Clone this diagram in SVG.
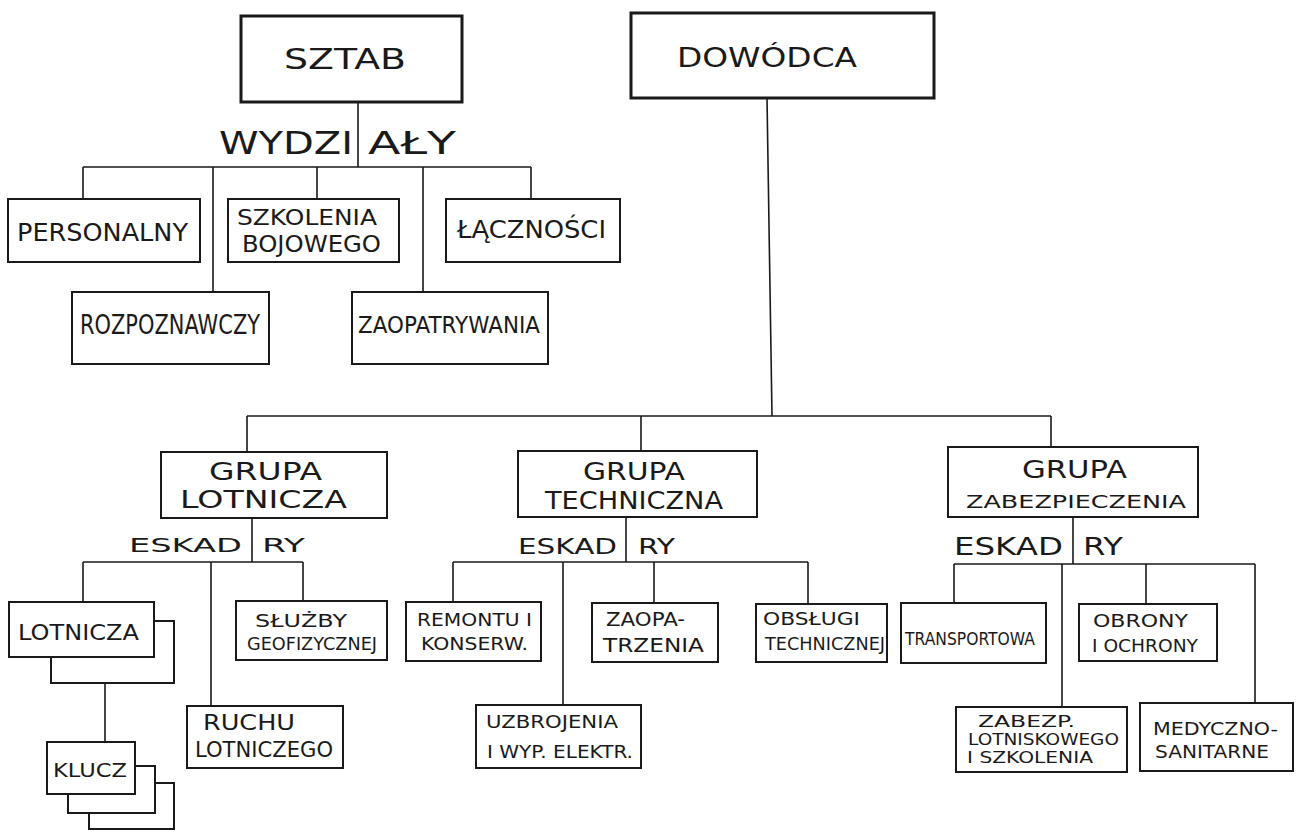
<svg xmlns="http://www.w3.org/2000/svg" width="1303" height="832" viewBox="0 0 1303 832">
<style>
.b{fill:#fff;stroke:#1a1a1a;stroke-width:2}
.bb{fill:#fff;stroke:#1a1a1a;stroke-width:3}
.s{fill:none;stroke:#1a1a1a;stroke-width:2}
.c{fill:none;stroke:#1a1a1a;stroke-width:1.6}
text{font-family:"DejaVu Sans","Liberation Sans",sans-serif;fill:#1a1a1a}
</style>
<rect x="0" y="0" width="1303" height="832" fill="#fff"/>
<g id="connectors" class="c">
<path d="M358,102 V167 M83,167 H531 M83,167 V199 M213,167 V292 M317,167 V199 M423,167 V292 M531,167 V199"/>
<path d="M767,98 L772,416 M247,416 H1051 M247,416 V452 M641,416 V451 M1051,416 V447"/>
<path d="M252,518 V562 M83,562 H303 M83,562 V602 M211,562 V706 M303,562 V601 M105,683 V742"/>
<path d="M626,517 V562 M453,562 H808 M453,562 V602 M563,562 V705 M654,562 V603 M808,562 V604"/>
<path d="M1073,517 V564 M954,564 H1255 M954,564 V603 M1062,564 V706 M1146,564 V604 M1255,564 V703"/>
</g>
<g id="sztab"><rect class="bb" x="241" y="16" width="221" height="86"/><text x="284" y="69" font-size="28" textLength="122" lengthAdjust="spacingAndGlyphs">SZTAB</text></g>
<g id="wydzialy-label"><text x="219" y="154" font-size="32" textLength="134" lengthAdjust="spacingAndGlyphs">WYDZI</text><text x="368" y="154" font-size="32" textLength="88" lengthAdjust="spacingAndGlyphs">AŁY</text></g>
<g id="dowodca"><rect class="bb" x="631" y="13" width="303" height="85"/><text x="677" y="67" font-size="26" textLength="180" lengthAdjust="spacingAndGlyphs">DOWÓDCA</text></g>
<g id="personalny"><rect class="b" x="8" y="199" width="192" height="63"/><text x="17" y="241" font-size="25" textLength="171" lengthAdjust="spacingAndGlyphs">PERSONALNY</text></g>
<g id="szkolenia"><rect class="b" x="228" y="199" width="171" height="63"/><text x="237" y="225" font-size="21" textLength="140" lengthAdjust="spacingAndGlyphs">SZKOLENIA</text><text x="242" y="252" font-size="23" textLength="139" lengthAdjust="spacingAndGlyphs">BOJOWEGO</text></g>
<g id="lacznosci"><rect class="b" x="446" y="199" width="174" height="63"/><text x="457" y="238" font-size="24" textLength="149" lengthAdjust="spacingAndGlyphs">ŁĄCZNOŚCI</text></g>
<g id="rozpoznawczy"><rect class="b" x="72" y="292" width="197" height="72"/><text x="80" y="334" font-size="26" textLength="180" lengthAdjust="spacingAndGlyphs">ROZPOZNAWCZY</text></g>
<g id="zaopatrywania"><rect class="b" x="352" y="292" width="196" height="72"/><text x="358" y="333" font-size="23" textLength="182" lengthAdjust="spacingAndGlyphs">ZAOPATRYWANIA</text></g>
<g id="grupa-lotnicza"><rect class="b" x="161" y="452" width="226" height="66"/><text x="209" y="480" font-size="25" textLength="113" lengthAdjust="spacingAndGlyphs">GRUPA</text><text x="180" y="508" font-size="25" textLength="167" lengthAdjust="spacingAndGlyphs">LOTNICZA</text></g>
<g id="eskadry-lot"><text x="129" y="552" font-size="20" textLength="113" lengthAdjust="spacingAndGlyphs">ESKAD</text><text x="262" y="552" font-size="20" textLength="43" lengthAdjust="spacingAndGlyphs">RY</text></g>
<g id="lotnicza"><path class="s" d="M154,621 H174 V683 H51 V657"/><rect class="b" x="9" y="602" width="145" height="55"/><text x="18" y="640" font-size="21" textLength="121" lengthAdjust="spacingAndGlyphs">LOTNICZA</text></g>
<g id="klucz"><path class="s" d="M155,783 H174 V829 H89 V813"/><path class="s" d="M135,766 H155 V813 H68 V794"/><rect class="b" x="47" y="742" width="88" height="52"/><text x="53" y="777" font-size="20" textLength="74" lengthAdjust="spacingAndGlyphs">KLUCZ</text></g>
<g id="sluzby"><rect class="b" x="236" y="601" width="151" height="59"/><text x="255" y="627" font-size="18" textLength="92" lengthAdjust="spacingAndGlyphs">SŁUŻBY</text><text x="247" y="650" font-size="17" textLength="130" lengthAdjust="spacingAndGlyphs">GEOFIZYCZNEJ</text></g>
<g id="ruchu"><rect class="b" x="187" y="706" width="156" height="62"/><text x="203" y="730" font-size="21" textLength="92" lengthAdjust="spacingAndGlyphs">RUCHU</text><text x="195" y="757" font-size="21" textLength="138" lengthAdjust="spacingAndGlyphs">LOTNICZEGO</text></g>
<g id="grupa-techniczna"><rect class="b" x="518" y="451" width="239" height="66"/><text x="583" y="480" font-size="25" textLength="102" lengthAdjust="spacingAndGlyphs">GRUPA</text><text x="545" y="509" font-size="25" textLength="178" lengthAdjust="spacingAndGlyphs">TECHNICZNA</text></g>
<g id="eskadry-tech"><text x="518" y="554" font-size="22" textLength="99" lengthAdjust="spacingAndGlyphs">ESKAD</text><text x="638" y="554" font-size="22" textLength="37" lengthAdjust="spacingAndGlyphs">RY</text></g>
<g id="remontu"><rect class="b" x="406" y="602" width="135" height="59"/><text x="417" y="626" font-size="18" textLength="115" lengthAdjust="spacingAndGlyphs">REMONTU I</text><text x="421" y="650" font-size="18" textLength="107" lengthAdjust="spacingAndGlyphs">KONSERW.</text></g>
<g id="zaopatrzenia"><rect class="b" x="592" y="603" width="126" height="59"/><text x="606" y="626" font-size="19" textLength="79" lengthAdjust="spacingAndGlyphs">ZAOPA-</text><text x="603" y="652" font-size="19" textLength="101" lengthAdjust="spacingAndGlyphs">TRZENIA</text></g>
<g id="obslugi"><rect class="b" x="756" y="604" width="131" height="58"/><text x="763" y="625" font-size="17" textLength="97" lengthAdjust="spacingAndGlyphs">OBSŁUGI</text><text x="765" y="650" font-size="17" textLength="120" lengthAdjust="spacingAndGlyphs">TECHNICZNEJ</text></g>
<g id="uzbrojenia"><rect class="b" x="476" y="705" width="165" height="63"/><text x="486" y="728" font-size="18" textLength="132" lengthAdjust="spacingAndGlyphs">UZBROJENIA</text><text x="487" y="758" font-size="18" textLength="146" lengthAdjust="spacingAndGlyphs">I WYP. ELEKTR.</text></g>
<g id="grupa-zabezpieczenia"><rect class="b" x="948" y="447" width="250" height="70"/><text x="1022" y="478" font-size="25" textLength="105" lengthAdjust="spacingAndGlyphs">GRUPA</text><text x="966" y="508" font-size="18" textLength="220" lengthAdjust="spacingAndGlyphs">ZABEZPIECZENIA</text></g>
<g id="eskadry-zab"><text x="954" y="555" font-size="25" textLength="109" lengthAdjust="spacingAndGlyphs">ESKAD</text><text x="1083" y="555" font-size="25" textLength="40" lengthAdjust="spacingAndGlyphs">RY</text></g>
<g id="transportowa"><rect class="b" x="901" y="603" width="145" height="60"/><text x="905" y="645" font-size="17" textLength="130" lengthAdjust="spacingAndGlyphs">TRANSPORTOWA</text></g>
<g id="obrony"><rect class="b" x="1079" y="604" width="138" height="57"/><text x="1093" y="627" font-size="18" textLength="95" lengthAdjust="spacingAndGlyphs">OBRONY</text><text x="1092" y="652" font-size="18" textLength="106" lengthAdjust="spacingAndGlyphs">I OCHRONY</text></g>
<g id="zabezp"><rect class="b" x="956" y="707" width="171" height="65"/><text x="978" y="727" font-size="15" textLength="97" lengthAdjust="spacingAndGlyphs">ZABEZP.</text><text x="968" y="745" font-size="15" textLength="151" lengthAdjust="spacingAndGlyphs">LOTNISKOWEGO</text><text x="967" y="763" font-size="15" textLength="126" lengthAdjust="spacingAndGlyphs">I SZKOLENIA</text></g>
<g id="medyczno"><rect class="b" x="1140" y="703" width="153" height="68"/><text x="1153" y="735" font-size="17" textLength="125" lengthAdjust="spacingAndGlyphs">MEDYCZNO-</text><text x="1155" y="758" font-size="17" textLength="114" lengthAdjust="spacingAndGlyphs">SANITARNE</text></g>
</svg>
